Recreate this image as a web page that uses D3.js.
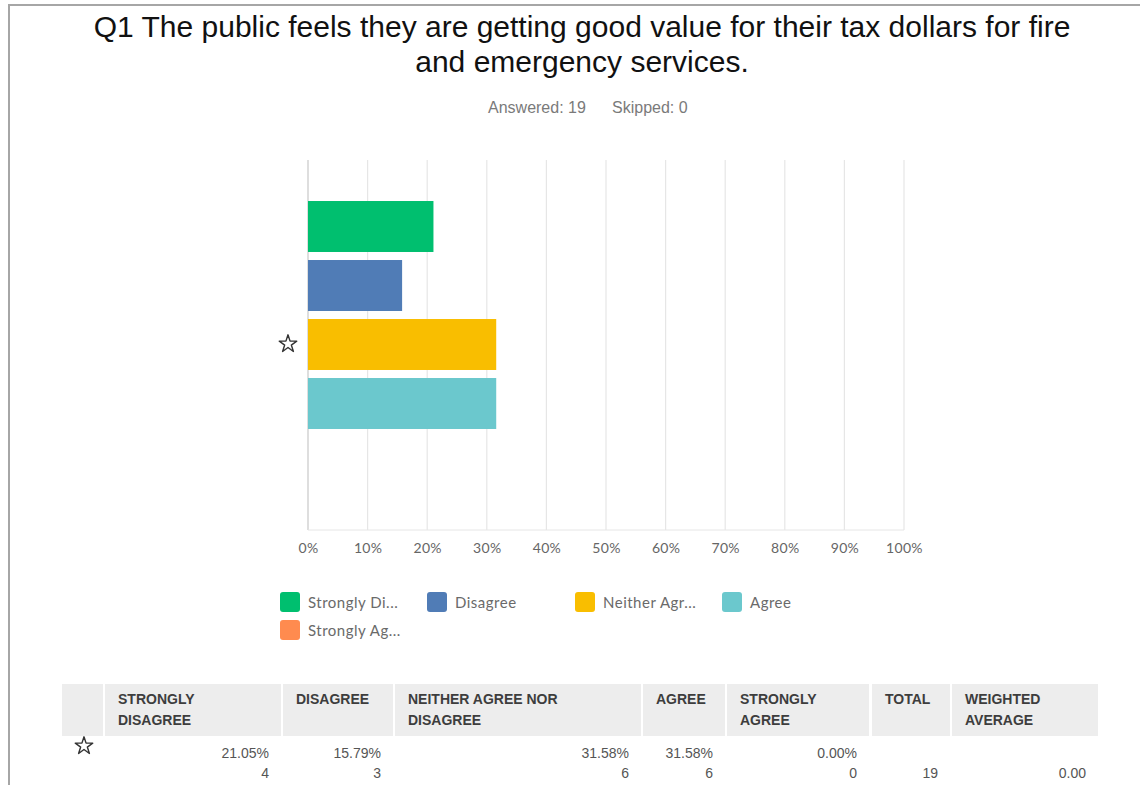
<!DOCTYPE html>
<html>
<head>
<meta charset="utf-8">
<script src="https://cdn.jsdelivr.net/npm/d3@7"></script>
<style>
  html, body { margin: 0; padding: 0; background: #fff; }
  svg { display: block; }
</style>
</head>
<body>
<svg id="chart" width="1140" height="785"></svg>
<script>
// Survey question and response summary
const titleLines = ["Q1 The public feels they are getting good value for their tax dollars for fire", "and emergency services."];
const answered = 19;
const skipped = 0;

// Response options, shares (%) and counts
const categories = ["Strongly Disagree", "Disagree", "Neither Agree nor Disagree", "Agree", "Strongly Agree"];
const legendLabels = ["Strongly Di...", "Disagree", "Neither Agr...", "Agree", "Strongly Ag..."];
const percents = [21.05, 15.79, 31.58, 31.58, 0];
const counts = [4, 3, 6, 6, 0];
const colors = ["#00bf6f", "#507cb6", "#f9be00", "#6bc8cd", "#ff8b4f"];
const xTicks = [0, 10, 20, 30, 40, 50, 60, 70, 80, 90, 100];

// Table
const headerLabels = [["STRONGLY", "DISAGREE"], ["DISAGREE"], ["NEITHER AGREE NOR", "DISAGREE"], ["AGREE"], ["STRONGLY", "AGREE"], ["TOTAL"], ["WEIGHTED", "AVERAGE"]];
const total = 19;
const weightedAverage = 0.00;

const svg = d3.select("#chart");

// outline star used as the row marker
const starPath = d3.symbol().type(d3.symbolStar).size(95)();
function star(g, cx, cy) {
  g.append("path").attr("d", starPath)
    .attr("transform", `translate(${cx},${cy})`)
    .attr("fill", "none").attr("stroke", "#333").attr("stroke-width", 1.4)
    .attr("stroke-linejoin", "round");
}

// page frame
svg.append("line").attr("x1", 8).attr("x2", 1140).attr("y1", 5).attr("y2", 5)
  .attr("stroke", "#a6a6a6").attr("stroke-width", 2);
svg.append("line").attr("x1", 9).attr("x2", 9).attr("y1", 4).attr("y2", 785)
  .attr("stroke", "#a6a6a6").attr("stroke-width", 2);

// title
svg.append("g").selectAll("text").data(titleLines).join("text")
  .attr("x", 582).attr("y", (d, i) => 37 + i * 35)
  .attr("text-anchor", "middle")
  .attr("font-family", "Liberation Sans, Arial, sans-serif")
  .attr("font-size", 30).attr("fill", "#111")
  .text(d => d);

// answered / skipped
const sub = svg.append("g").attr("font-family", "Liberation Sans, Arial, sans-serif")
  .attr("font-size", 16).attr("fill", "#7a7a7a");
sub.append("text").attr("x", 488).attr("y", 113).text(`Answered: ${answered}`);
sub.append("text").attr("x", 612).attr("y", 113).text(`Skipped: ${skipped}`);

// scales
const x = d3.scaleLinear().domain([0, 100]).range([308, 904]);
const y = d3.scaleBand().domain(categories).range([197, 492]).paddingInner(0.136).paddingOuter(0.068);
const plotTop = 160, plotBottom = 530;

// vertical grid
svg.append("g").selectAll("line").data(xTicks).join("line")
  .attr("x1", d => x(d)).attr("x2", d => x(d))
  .attr("y1", plotTop).attr("y2", plotBottom)
  .attr("stroke", d => d === 0 ? "#c8c8c8" : "#e6e6e6").attr("stroke-width", 1.2);
svg.append("line").attr("x1", x(0)).attr("x2", x(100)).attr("y1", plotBottom).attr("y2", plotBottom)
  .attr("stroke", "#e6e6e6").attr("stroke-width", 1);

// bars
svg.append("g").selectAll("rect").data(categories).join("rect")
  .attr("x", x(0))
  .attr("y", d => y(d))
  .attr("width", (d, i) => x(percents[i]) - x(0))
  .attr("height", y.bandwidth())
  .attr("fill", (d, i) => colors[i]);

// row marker
star(svg, 288, 344);

// x axis labels
const xAxis = d3.axisBottom(x).tickValues(xTicks).tickFormat(d => d + "%").tickSize(0).tickPadding(0);
const ax = svg.append("g").attr("transform", `translate(0,${543})`).call(xAxis);
ax.select(".domain").remove();
ax.selectAll("text").attr("font-family", "Lato, sans-serif").attr("font-size", 14)
  .attr("letter-spacing", 0.3).attr("fill", "#666");

// legend
const legendPos = [[280, 592], [427, 592], [575, 592], [722, 592], [280, 620]];
const lg = svg.append("g").selectAll("g").data(legendLabels).join("g")
  .attr("transform", (d, i) => `translate(${legendPos[i][0]},${legendPos[i][1]})`);
lg.append("rect").attr("width", 20).attr("height", 20).attr("rx", 3)
  .attr("fill", (d, i) => colors[i]);
lg.append("text").attr("x", 28).attr("y", 15.5)
  .attr("font-family", "Lato, sans-serif").attr("font-size", 15).attr("letter-spacing", 0.5)
  .attr("fill", "#6a6a6a")
  .text(d => d);

// table
const cols = [[62, 103], [105, 281], [283, 393], [395, 641], [643, 725], [727, 869], [872, 950], [952, 1098]];
const headTop = 684, headBottom = 736;
const tbl = svg.append("g").attr("font-family", "Liberation Sans, Arial, sans-serif").attr("font-size", 14);
tbl.selectAll("rect.head").data(cols).join("rect").attr("class", "head")
  .attr("x", d => d[0]).attr("y", headTop).attr("width", d => d[1] - d[0]).attr("height", headBottom - headTop)
  .attr("fill", "#ededed");
const heads = tbl.selectAll("g.hd").data(headerLabels).join("g").attr("class", "hd");
heads.selectAll("text").data((d, i) => d.map(t => ({ t, c: cols[i + 1] }))).join("text")
  .attr("x", d => d.c[0] + 13)
  .attr("y", (d, j) => 704 + j * 21)
  .attr("font-weight", "bold").attr("fill", "#3d3d3d")
  .text(d => d.t);

// data row
star(tbl, 84, 746);
const cells = categories.map((c, i) => ({ col: cols[i + 1], pct: percents[i].toFixed(2) + "%", n: counts[i] }));
tbl.selectAll("text.pct").data(cells).join("text").attr("class", "pct")
  .attr("x", d => d.col[1] - 12).attr("y", 758).attr("text-anchor", "end").attr("fill", "#555")
  .text(d => d.pct);
tbl.selectAll("text.cnt").data(cells).join("text").attr("class", "cnt")
  .attr("x", d => d.col[1] - 12).attr("y", 778).attr("text-anchor", "end").attr("fill", "#555")
  .text(d => d.n);
tbl.append("text").attr("x", cols[6][1] - 12).attr("y", 778).attr("text-anchor", "end").attr("fill", "#555").text(total);
tbl.append("text").attr("x", cols[7][1] - 12).attr("y", 778).attr("text-anchor", "end").attr("fill", "#555")
  .text(weightedAverage.toFixed(2));
</script>
</body>
</html>
